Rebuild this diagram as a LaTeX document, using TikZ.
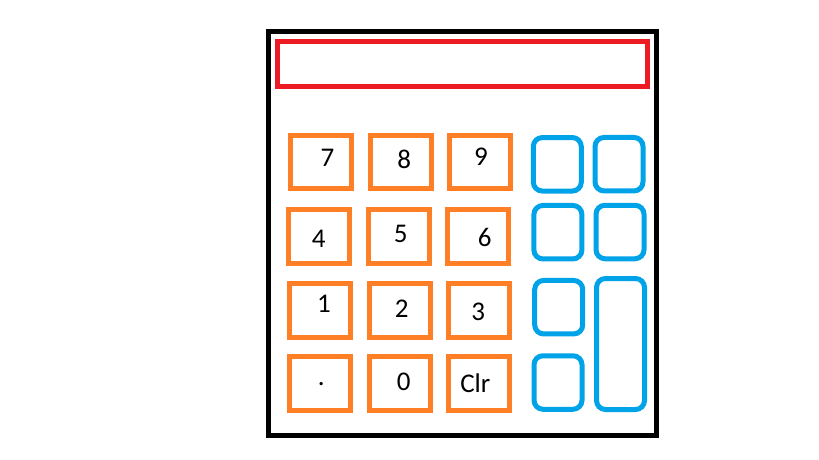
\documentclass[tikz,border=0pt]{standalone}
\usepackage{fontspec}
\setmainfont{Carlito}
\usepackage{tikz}
\definecolor{paintred}{HTML}{ED1C24}
\definecolor{paintorange}{HTML}{FF7F27}
\definecolor{paintblue}{HTML}{00A2E8}
\tikzstyle{casing} = [rectangle, draw=black, line width=5pt, inner sep=0pt, minimum width=388pt, minimum height=404pt]
\tikzstyle{display} = [rectangle, draw=paintred, line width=5pt, inner sep=0pt, minimum width=370pt, minimum height=45pt]
\tikzstyle{numkey} = [rectangle, draw=paintorange, line width=5pt, inner sep=0pt, minimum width=61pt, minimum height=53.5pt]
\tikzstyle{opkey} = [rectangle, draw=paintblue, line width=5pt, rounded corners=9pt, inner sep=0pt, minimum width=48pt, minimum height=53.5pt]
\tikzstyle{keylabel} = [anchor=base, inner sep=0pt, font=\fontsize{27}{30}\selectfont]

\begin{document}
\begin{tikzpicture}[x=1pt, y=-1pt]
        \useasboundingbox (0, 0) rectangle (819, 460);
        \node[casing] at (462.5, 233.5) (Body) {};
        \node[display] at (462.5, 64) (Screen) {};

        % number pad
        \node[numkey] at (320.8, 162.2) (Key7) {};
        \node[numkey] at (400.8, 162.2) (Key8) {};
        \node[numkey] at (479.9, 162.2) (Key9) {};
        \node[numkey] at (318.9, 236.5) (Key4) {};
        \node[numkey] at (399, 236.5) (Key5) {};
        \node[numkey] at (477.9, 236.5) (Key6) {};
        \node[numkey] at (319.8, 310.4) (Key1) {};
        \node[numkey] at (399.9, 310.4) (Key2) {};
        \node[numkey] at (478.6, 310.4) (Key3) {};
        \node[numkey] at (319.8, 383.4) (KeyDot) {};
        \node[numkey] at (399.9, 383.4) (Key0) {};
        \node[numkey] at (478.6, 383.4) (KeyClr) {};

        \node[keylabel] at (327.5, 166.7) (Text7) {7};
        \node[keylabel] at (404.3, 168.3) (Text8) {8};
        \node[keylabel] at (481, 165.7) (Text9) {9};
        \node[keylabel] at (318.7, 247.3) (Text4) {4};
        \node[keylabel] at (400.8, 242.3) (Text5) {5};
        \node[keylabel] at (484.7, 246) (Text6) {6};
        \node[keylabel] at (324, 312.3) (Text1) {1};
        \node[keylabel] at (401.7, 317.7) (Text2) {2};
        \node[keylabel] at (478.3, 320) (Text3) {3};
        \node[keylabel] at (321.3, 385) (TextDot) {.};
        \node[keylabel] at (403.8, 390.7) (Text0) {0};
        \node[keylabel] at (475.3, 392.3) (TextClr) {Clr};

        % operator keys
        \node[opkey] at (557.3, 164.3) (OpA) {};
        \node[opkey] at (619, 164.2) (OpB) {};
        \node[opkey] at (557.9, 232.2) (OpC) {};
        \node[opkey] at (620, 232) (OpD) {};
        \node[opkey] at (558.7, 307.2) (OpE) {};
        \node[opkey] at (558, 382.5) (OpF) {};
        \node[opkey, minimum height=131pt] at (620.5, 344) (OpEnter) {};
    \end{tikzpicture}
\end{document}
